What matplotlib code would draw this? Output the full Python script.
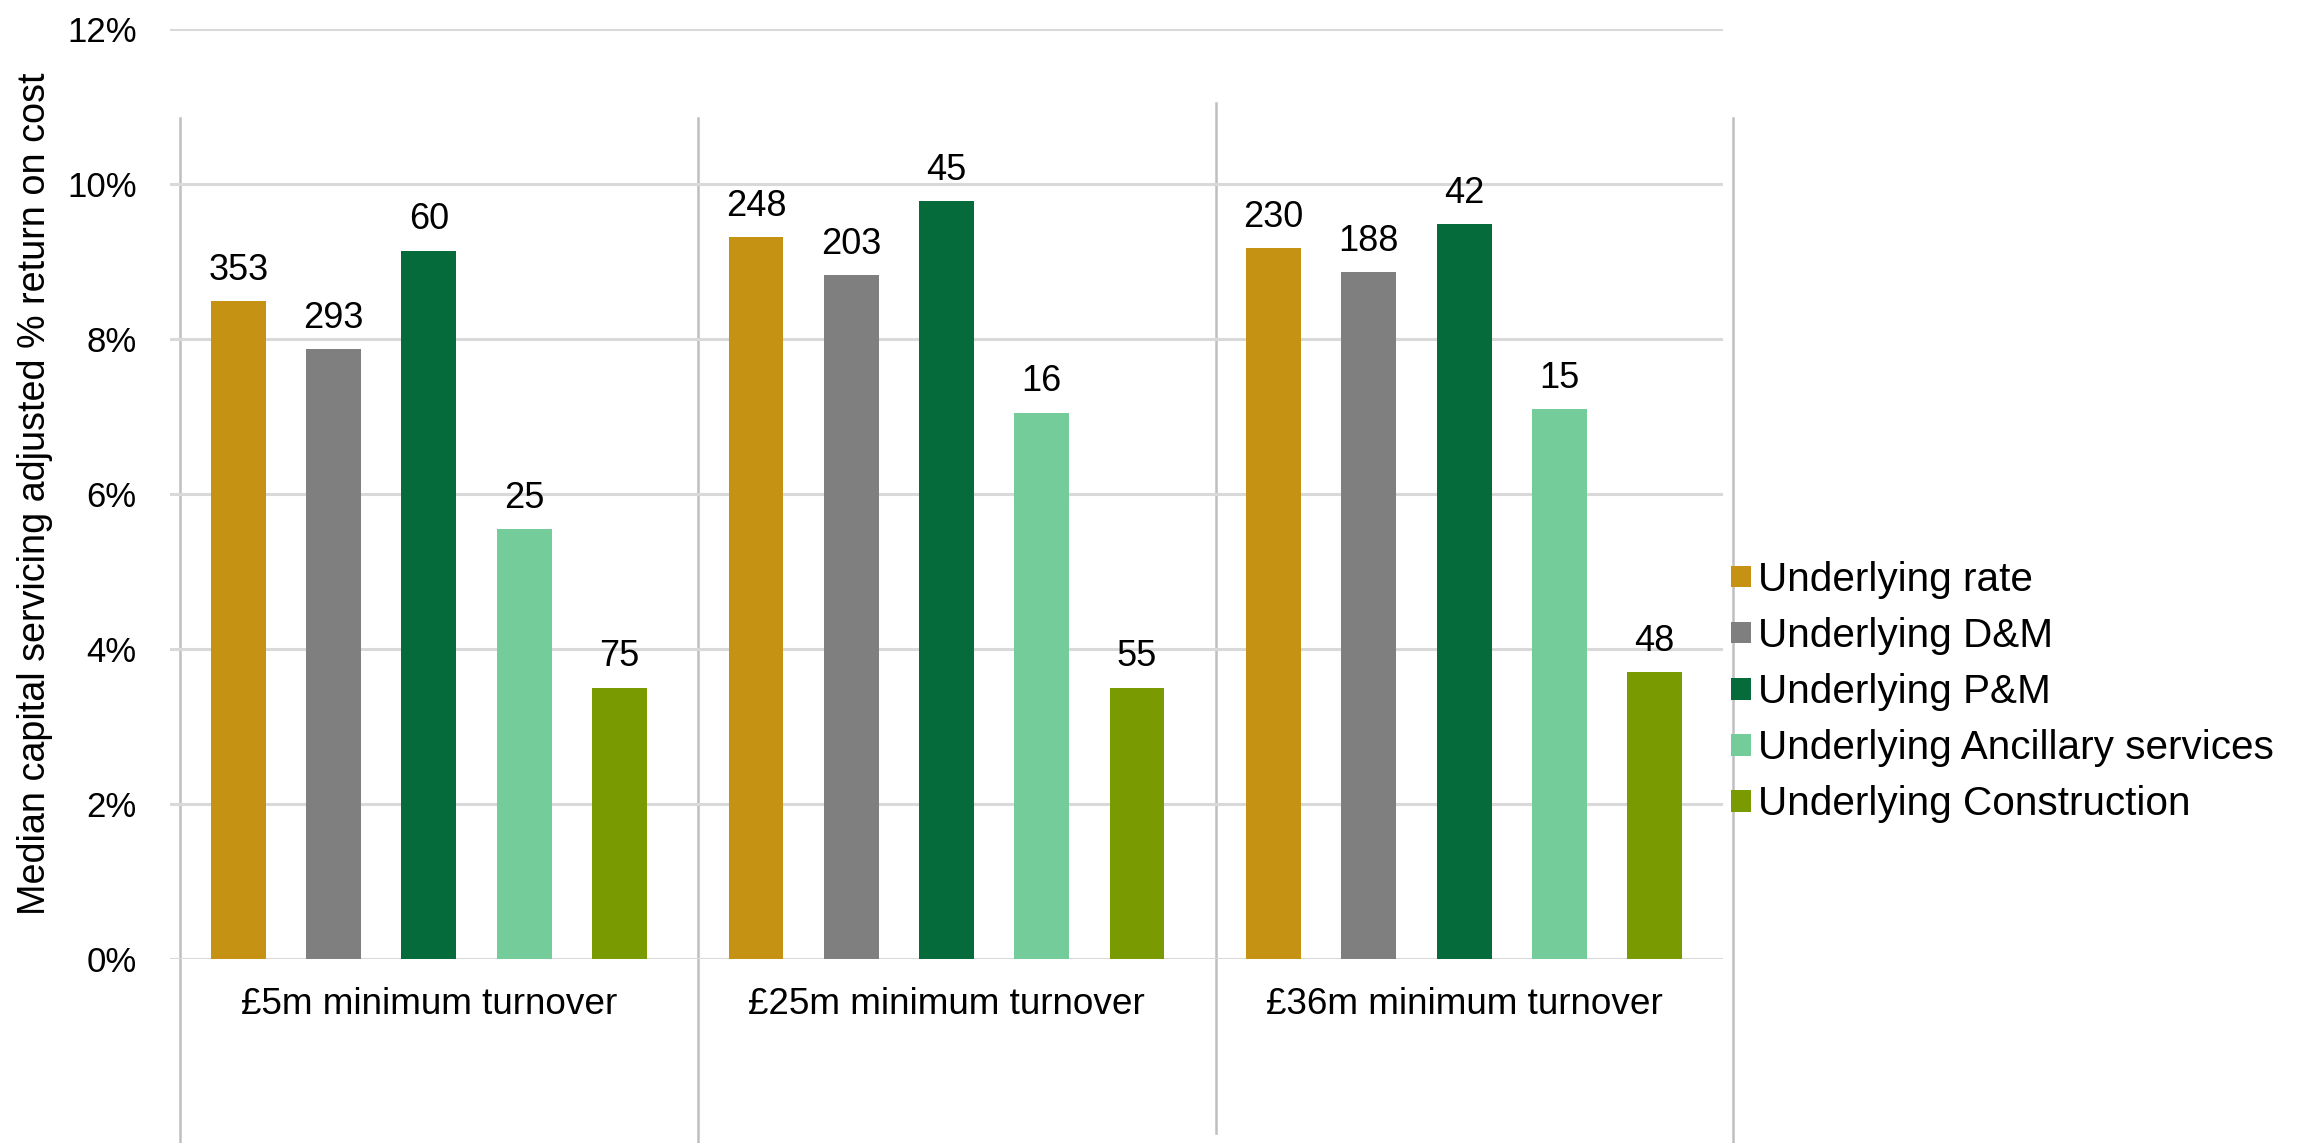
import matplotlib
matplotlib.use("Agg")
import matplotlib.pyplot as plt
import numpy as np
from matplotlib.patches import Patch
from matplotlib.lines import Line2D

plt.rcParams['font.family'] = ['Liberation Sans', 'DejaVu Sans']

categories = ["£5m minimum turnover", "£25m minimum turnover", "£36m minimum turnover"]
series = ["Underlying rate", "Underlying D&M", "Underlying P&M",
          "Underlying Ancillary services", "Underlying Construction"]
rate = [8.49, 9.31, 9.17]
dm = [7.87, 8.82, 8.86]
pm = [9.14, 9.78, 9.48]
ancillary = [5.55, 7.05, 7.09]
construction = [3.50, 3.50, 3.70]
counts_rate = [353, 248, 230]
counts_dm = [293, 203, 188]
counts_pm = [60, 45, 42]
counts_anc = [25, 16, 15]
counts_con = [75, 55, 48]
yticks = [0, 2, 4, 6, 8, 10, 12]
ylabel = "Median capital servicing adjusted % return on cost"

values = [rate, dm, pm, ancillary, construction]
counts = [counts_rate, counts_dm, counts_pm, counts_anc, counts_con]
colors = ["#C59214", "#7F7F7F", "#066B3A", "#73CC99", "#7A9A01"]

W, H = 2307, 1143
fig = plt.figure(figsize=(W / 100, H / 100), dpi=100)
ax = fig.add_axes([170 / W, 1 - 958.7 / H, (1723 - 170) / W, (958.7 - 29) / H])

x = np.arange(len(categories))
spacing = 0.184
width = 0.106
for k, (vals, cnts, col) in enumerate(zip(values, counts, colors)):
    xs = x + (k - 2) * spacing
    bars = ax.bar(xs, vals, width=width, color=col, zorder=3, label=series[k])
    for b, c in zip(bars, cnts):
        ax.annotate(str(c), (b.get_x() + b.get_width() / 2, b.get_height()),
                    xytext=(0, 9.5), textcoords="offset points",
                    ha="center", va="bottom", fontsize=26, color="black")

ax.set_xlim(-0.5, 2.5)
ax.set_ylim(0, 12)
ax.set_yticks(yticks)
ax.set_yticklabels([f"{t}%" for t in yticks], fontsize=25)
ax.tick_params(axis="y", length=0, pad=24)
ax.tick_params(axis="x", length=0, labelbottom=False)
ax.yaxis.grid(True, color="#D9D9D9", linewidth=2.2, zorder=0)
for s in ax.spines.values():
    s.set_visible(False)
ax.set_ylabel(ylabel, fontsize=27.2)
ax.yaxis.set_label_coords(-(170 - 53) / (1723 - 170), 0.5)

for i, c in enumerate(categories):
    ax.text(i, -0.585, c, ha="center", va="center", fontsize=26.6)

# category separators (multi-level axis style)
sep_x = np.arange(len(categories) + 1) - 0.5 + 0.02
for j, sx in enumerate(sep_x):
    top = 11.04 if j == 2 else 10.85
    bot = -2.25 if j == 2 else -2.4
    ax.add_line(Line2D([sx, sx], [bot, top], color="#BFBFBF", linewidth=1.8,
                       clip_on=False, zorder=1))

handles = [Patch(facecolor=c, edgecolor="none") for c in colors]
fig.legend(handles, series, loc="upper left",
           bbox_to_anchor=(1731 / W, 1 - 561 / H), frameon=False,
           fontsize=29.2, handlelength=0.49, handleheight=0.45,
           handletextpad=0.17, labelspacing=0.445, borderpad=0, borderaxespad=0)

fig.savefig("out.png", dpi=100, facecolor="white")
